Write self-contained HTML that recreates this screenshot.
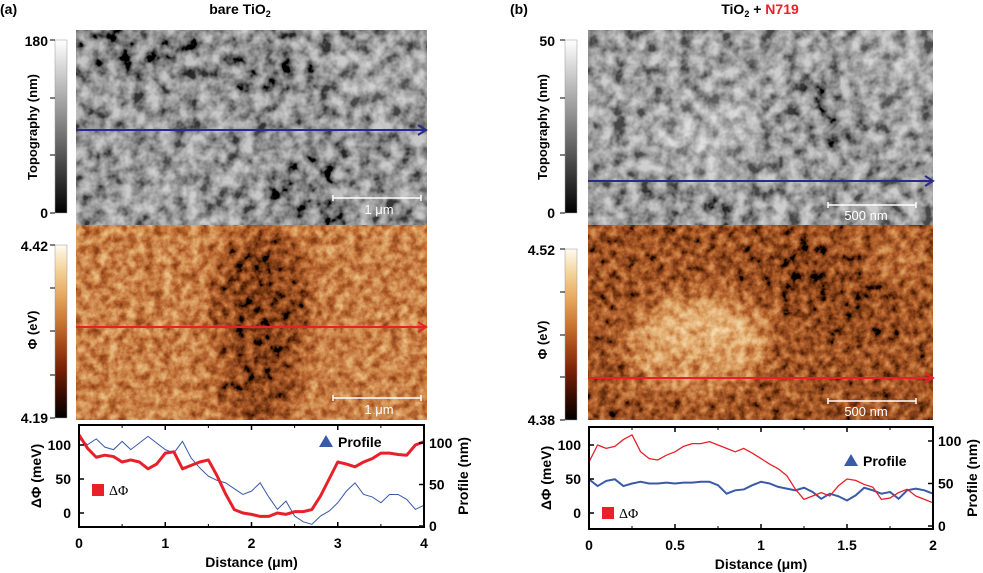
<!DOCTYPE html>
<html><head><meta charset="utf-8"><style>
html,body{margin:0;padding:0;background:#fff;}
svg{display:block;font-family:"Liberation Sans",Arial,sans-serif;}
.b{font-weight:bold;}
</style></head><body>
<svg id="fig" width="983" height="573" viewBox="0 0 983 573" xmlns="http://www.w3.org/2000/svg">
<defs>
<filter id="blur12" x="-50%" y="-50%" width="200%" height="200%"><feGaussianBlur stdDeviation="14"/></filter>
<filter id="grayTex" x="0" y="0" width="100%" height="100%">
 <feTurbulence type="fractalNoise" baseFrequency="0.075" numOctaves="3" seed="4" result="n"/>
 <feColorMatrix in="n" type="matrix" values="2 0 0 0 -0.5 2 0 0 0 -0.5 2 0 0 0 -0.5 0 0 0 0 1" result="g"/>
 <feComposite in="g" in2="SourceGraphic" operator="arithmetic" k1="0" k2="0.55" k3="0.8" k4="-0.22" result="c"/>
 <feComponentTransfer in="c"><feFuncA type="table" tableValues="1 1"/></feComponentTransfer>
</filter>
<filter id="phiTex" x="0" y="0" width="100%" height="100%">
 <feTurbulence type="fractalNoise" baseFrequency="0.11" numOctaves="3" seed="9" result="n"/>
 <feColorMatrix in="n" type="matrix" values="1.5 0 0 0 -0.25 1.5 0 0 0 -0.25 1.5 0 0 0 -0.25 0 0 0 0 1" result="g"/>
 <feComposite in="g" in2="SourceGraphic" operator="arithmetic" k1="0" k2="0.45" k3="0.8" k4="-0.17" result="c"/>
 <feComponentTransfer in="c">
  <feFuncR type="table" tableValues="0 0.23 0.48 0.66 0.8 0.9 0.96 1"/>
  <feFuncG type="table" tableValues="0 0.05 0.13 0.29 0.48 0.66 0.83 0.98"/>
  <feFuncB type="table" tableValues="0 0.01 0.03 0.09 0.21 0.38 0.6 0.94"/>
  <feFuncA type="table" tableValues="1 1"/>
 </feComponentTransfer>
</filter>
<linearGradient id="grayBar" x1="0" y1="1" x2="0" y2="0"><stop offset="0" stop-color="#000"/><stop offset="1" stop-color="#fff"/></linearGradient>
<linearGradient id="phiBar" x1="0" y1="1" x2="0" y2="0">
 <stop offset="0" stop-color="#000"/><stop offset="0.14" stop-color="#3a0c02"/><stop offset="0.29" stop-color="#7a2208"/><stop offset="0.43" stop-color="#a84a18"/><stop offset="0.57" stop-color="#cc7a35"/><stop offset="0.71" stop-color="#e6a860"/><stop offset="0.86" stop-color="#f4d49a"/><stop offset="1" stop-color="#fffaf0"/>
</linearGradient>
<clipPath id="cTL"><rect x="76" y="30" width="351" height="195"/></clipPath>
<clipPath id="cPL"><rect x="76" y="225" width="351" height="195"/></clipPath>
<clipPath id="cTR"><rect x="588" y="30" width="345" height="195"/></clipPath>
<clipPath id="cPR"><rect x="588" y="225" width="345" height="195"/></clipPath>
</defs>

<text x="0" y="14" class="b" font-size="14">(a)</text>
<text x="240" y="14" class="b" font-size="14" text-anchor="middle">bare TiO<tspan font-size="9" dy="3">2</tspan></text>
<text x="510" y="14" class="b" font-size="14">(b)</text>
<text x="760" y="14" class="b" font-size="14" text-anchor="middle">TiO<tspan font-size="9" dy="3">2</tspan><tspan dy="-3"> + </tspan><tspan fill="#e8202a">N719</tspan></text>

<g clip-path="url(#cTL)">
 <g filter="url(#grayTex)">
  <rect x="76" y="30" width="351" height="195" fill="#999"/>
  <g filter="url(#blur12)">
   <ellipse cx="140" cy="45" rx="60" ry="20" fill="#707070"/>
   <ellipse cx="270" cy="70" rx="40" ry="25" fill="#7a7a7a"/>
   <ellipse cx="310" cy="190" rx="30" ry="40" fill="#747474"/>
   <ellipse cx="380" cy="80" rx="40" ry="30" fill="#aaa"/>
   <ellipse cx="180" cy="180" rx="50" ry="30" fill="#a5a5a5"/>
  </g>
 </g>
</g>
<g clip-path="url(#cPL)">
 <g filter="url(#phiTex)">
  <rect x="76" y="225" width="351" height="195" fill="#a8a8a8"/>
  <g filter="url(#blur12)">
   <ellipse cx="262" cy="300" rx="45" ry="70" fill="#5a5a5a"/>
   <ellipse cx="258" cy="380" rx="38" ry="45" fill="#606060"/>
  </g>
 </g>
</g>
<g clip-path="url(#cTR)">
 <g filter="url(#grayTex)">
  <rect x="588" y="30" width="345" height="195" fill="#a0a0a0"/>
  <g filter="url(#blur12)">
   <ellipse cx="700" cy="140" rx="45" ry="30" fill="#c0c0c0"/>
   <ellipse cx="740" cy="100" rx="25" ry="20" fill="#b5b5b5"/>
   <ellipse cx="825" cy="115" rx="20" ry="35" fill="#777"/>
   <ellipse cx="890" cy="70" rx="35" ry="30" fill="#b2b2b2"/>
   <ellipse cx="680" cy="210" rx="60" ry="15" fill="#858585"/>
  </g>
 </g>
</g>
<g clip-path="url(#cPR)">
 <g filter="url(#phiTex)">
  <rect x="588" y="225" width="345" height="195" fill="#7a7a7a"/>
  <g filter="url(#blur12)">
   <ellipse cx="700" cy="340" rx="70" ry="45" fill="#d0d0d0"/>
   <ellipse cx="690" cy="370" rx="60" ry="25" fill="#b8b8b8"/>
   <ellipse cx="800" cy="270" rx="35" ry="30" fill="#555"/>
   <ellipse cx="860" cy="300" rx="40" ry="30" fill="#606060"/>
   <ellipse cx="900" cy="260" rx="30" ry="25" fill="#a0a0a0"/>
  </g>
 </g>
</g>

<g><line x1="76" y1="130" x2="424" y2="130" stroke="#2a2a8a" stroke-width="2"/><path d="M418,125 L426,130 L418,135" fill="none" stroke="#2a2a8a" stroke-width="2"/></g>
<g><line x1="76" y1="327" x2="424" y2="327" stroke="#e8202a" stroke-width="2"/><path d="M418,322 L426,327 L418,332" fill="none" stroke="#e8202a" stroke-width="2"/></g>
<g><line x1="588" y1="181" x2="931" y2="181" stroke="#2a2a8a" stroke-width="2"/><path d="M925,176 L933,181 L925,186" fill="none" stroke="#2a2a8a" stroke-width="2"/></g>
<g><line x1="588" y1="378" x2="931" y2="378" stroke="#e8202a" stroke-width="2"/><path d="M925,373 L933,378 L925,383" fill="none" stroke="#e8202a" stroke-width="2"/></g>

<g fill="#fff" stroke="#fff" font-size="13"><path d="M333,198 H421 M333,195 V201 M421,195 V201" stroke-width="1.5"/><text x="379" y="214" text-anchor="middle" stroke="none">1 μm</text></g>
<g fill="#fff" stroke="#fff" font-size="13"><path d="M333,398 H421 M333,395 V401 M421,395 V401" stroke-width="1.5"/><text x="379" y="414" text-anchor="middle" stroke="none">1 μm</text></g>
<g fill="#fff" stroke="#fff" font-size="13"><path d="M828,205 H916 M828,202 V208 M916,202 V208" stroke-width="1.5"/><text x="866" y="220" text-anchor="middle" stroke="none">500 nm</text></g>
<g fill="#fff" stroke="#fff" font-size="13"><path d="M828,401 H916 M828,398 V404 M916,398 V404" stroke-width="1.5"/><text x="866" y="416" text-anchor="middle" stroke="none">500 nm</text></g>

<g><rect x="55" y="40" width="12" height="173" fill="url(#grayBar)" stroke="#999" stroke-width="0.5"/><path d="M50,40H55M50,98H55M50,155H55M50,213H55" stroke="#000"/><text x="48" y="46" class="b" font-size="14" text-anchor="end">180</text><text x="48" y="218" class="b" font-size="14" text-anchor="end">0</text></g>
<text transform="translate(37,127) rotate(-90)" class="b" font-size="13" text-anchor="middle">Topography (nm)</text>
<g><rect x="55" y="245" width="12" height="173" fill="url(#phiBar)" stroke="#999" stroke-width="0.5"/><path d="M50,245H55M50,288H55M50,331H55M50,375H55M50,418H55" stroke="#000"/><text x="48" y="251" class="b" font-size="14" text-anchor="end">4.42</text><text x="48" y="423" class="b" font-size="14" text-anchor="end">4.19</text></g>
<text transform="translate(37,330) rotate(-90)" class="b" font-size="13" text-anchor="middle">Φ (eV)</text>
<g><rect x="565" y="40" width="12" height="173" fill="url(#grayBar)" stroke="#999" stroke-width="0.5"/><path d="M560,40H565M560,98H565M560,155H565M560,213H565" stroke="#000"/><text x="555" y="46" class="b" font-size="14" text-anchor="end">50</text><text x="555" y="218" class="b" font-size="14" text-anchor="end">0</text></g>
<text transform="translate(547,127) rotate(-90)" class="b" font-size="13" text-anchor="middle">Topography (nm)</text>
<g><rect x="565" y="249" width="12" height="171" fill="url(#phiBar)" stroke="#999" stroke-width="0.5"/><path d="M560,249H565M560,292H565M560,335H565M560,377H565M560,420H565" stroke="#000"/><text x="555" y="255" class="b" font-size="14" text-anchor="end">4.52</text><text x="555" y="425" class="b" font-size="14" text-anchor="end">4.38</text></g>
<text transform="translate(547,340) rotate(-90)" class="b" font-size="13" text-anchor="middle">Φ (eV)</text>

<g id="charts"></g>
</svg>
<script>
const xA = [0,0.1,0.2,0.3,0.4,0.5,0.6,0.7,0.8,0.9,1.0,1.1,1.2,1.3,1.4,1.5,1.6,1.7,1.8,1.9,2.0,2.1,2.2,2.3,2.4,2.5,2.6,2.7,2.8,2.9,3.0,3.1,3.2,3.3,3.4,3.5,3.6,3.7,3.8,3.9,4.0];
const dPhiA = [115,95,82,85,83,75,78,75,65,72,88,90,65,70,75,78,55,28,5,0,-2,-5,-5,0,-2,2,2,5,25,50,75,72,68,75,80,88,88,86,85,100,105];
const profA = [105,98,105,95,92,102,92,100,108,100,92,88,102,82,70,60,55,52,45,38,42,52,35,20,30,12,5,2,12,18,28,42,52,38,35,28,38,38,32,20,25];
const xB = [0,0.05,0.1,0.15,0.2,0.25,0.3,0.35,0.4,0.45,0.5,0.55,0.6,0.65,0.7,0.75,0.8,0.85,0.9,0.95,1.0,1.05,1.1,1.15,1.2,1.25,1.3,1.35,1.4,1.45,1.5,1.55,1.6,1.65,1.7,1.75,1.8,1.85,1.9,1.95,2.0];
const dPhiB = [75,100,95,98,108,115,90,80,78,85,90,98,102,102,105,100,95,90,95,88,80,72,65,55,35,20,25,30,25,40,50,48,42,38,20,22,30,35,25,20,15];
const profB = [55,47,53,55,47,50,52,50,50,51,50,51,51,52,52,48,38,42,43,48,52,50,46,44,42,45,40,32,38,35,30,36,45,42,38,40,32,42,44,42,38];
const xTicksA = ["0","1","2","3","4"];
const xTicksB = ["0","0.5","1","1.5","2"];
const yTicksL = [0,50,100];
const yTicksR = [0,50,100];

const NS="http://www.w3.org/2000/svg";
const root=document.getElementById('charts');
function mk(tag,attrs,parent){const e=document.createElementNS(NS,tag);for(const k in attrs)e.setAttribute(k,attrs[k]);(parent||root).appendChild(e);return e;}

function chart(c){
  const g=mk('g',{});
  
  
  const sx=v=>c.x0+(v/c.xmax)*(c.x1-c.x0);
  const syL=v=>c.l0-v*c.lk;
  const syR=v=>c.r0-v*c.rk;
  const clipId='clip'+c.name;
  const cp=mk('clipPath',{id:clipId},g); mk('rect',{x:c.x0,y:c.y0,width:c.x1-c.x0,height:c.y1-c.y0},cp);
  const lines=mk('g',{'clip-path':'url(#'+clipId+')'},g);
  const pb=mk('polyline',{points:c.xs.map((x,i)=>sx(x)+','+syR(c.prof[i])).join(' '),fill:'none',stroke:'#3a5aa8','stroke-width':c.bw},lines);
  
  
  const pr=mk('polyline',{points:c.xs.map((x,i)=>sx(x)+','+syL(c.phi[i])).join(' '),fill:'none',stroke:'#e8202a','stroke-width':c.rw,'stroke-linejoin':'round'},lines);
  
  
  mk('rect',{x:c.x0,y:c.y0,width:c.x1-c.x0,height:c.y1-c.y0,fill:'none',stroke:'#000','stroke-width':2},g);
  const n=c.xt.length;
  for(let i=0;i<n;i++){
    const v=c.xmax*i/(n-1), x=sx(v);
    mk('line',{x1:x,y1:c.y1,x2:x,y2:c.y1-5,stroke:'#000','stroke-width':1.5},g);
    mk('line',{x1:x,y1:c.y0,x2:x,y2:c.y0+5,stroke:'#000','stroke-width':1.5},g);
    if(i<n-1){const xm=sx(v+c.xmax/(n-1)/2);mk('line',{x1:xm,y1:c.y1,x2:xm,y2:c.y1-3,stroke:'#000'},g);mk('line',{x1:xm,y1:c.y0,x2:xm,y2:c.y0+3,stroke:'#000'},g);}
    const t=mk('text',{x:x,y:c.y1+21,'text-anchor':'middle','font-size':14,'font-weight':'bold'},g); t.textContent=c.xt[i];
    
    
  }
  yTicksL.forEach(v=>{const y=syL(v);mk('line',{x1:c.x0,y1:y,x2:c.x0+5,y2:y,stroke:'#000','stroke-width':1.5},g);
    const t=mk('text',{x:c.x0-8,y:y+5,'text-anchor':'end','font-size':14,'font-weight':'bold'},g);t.textContent=v;
    
    });
  yTicksR.forEach(v=>{const y=syR(v);mk('line',{x1:c.x1,y1:y,x2:c.x1-5,y2:y,stroke:'#000','stroke-width':1.5},g);
    const t=mk('text',{x:c.x1+5,y:y+5,'text-anchor':'start','font-size':14,'font-weight':'bold'},g);t.textContent=v;
    
    });
  const xl=mk('text',{x:(c.x0+c.x1)/2,y:c.y1+40,'text-anchor':'middle','font-size':14,'font-weight':'bold'},g);xl.textContent='Distance (μm)';
  
  
  const yl=mk('text',{transform:'translate('+(c.x0-38)+','+((c.y0+c.y1)/2)+') rotate(-90)','text-anchor':'middle','font-size':14,'font-weight':'bold'},g);yl.textContent='ΔΦ (meV)';
  
  
  const yr=mk('text',{transform:'translate('+(c.x1+44)+','+((c.y0+c.y1)/2)+') rotate(-90)','text-anchor':'middle','font-size':14,'font-weight':'bold'},g);yr.textContent='Profile (nm)';
  
  
  const lp=mk('g',{},g);
  
  
  mk('path',{d:`M${c.lpx},${c.lpy+5} l7,-12 l7,12 z`,fill:'#3a5aa8'},lp);
  const lpt=mk('text',{x:c.lpx+19,y:c.lpy+5,'font-size':14,'font-weight':'bold'},lp);lpt.textContent='Profile';
  const lr=mk('g',{},g);
  
  
  mk('rect',{x:c.lrx,y:c.lry-11,width:12,height:12,fill:'#e8202a'},lr);
  const lrt=mk('text',{x:c.lrx+17,y:c.lry,'font-size':14,'font-family':'Liberation Serif, serif'},lr);lrt.textContent='ΔΦ';
}
chart({name:'line-chart-a',x0:79,x1:424,y0:425,y1:527,xmax:4,l0:513,lk:0.68,r0:526,rk:0.83,xs:xA,phi:dPhiA,prof:profA,xt:xTicksA,bw:1,rw:3,lpx:319,lpy:442,lrx:92,lry:495});
chart({name:'line-chart-b',x0:589,x1:933,y0:427,y1:529,xmax:2,l0:513,lk:0.68,r0:526,rk:0.85,xs:xB,phi:dPhiB,prof:profB,xt:xTicksB,bw:2,rw:1.3,lpx:844,lpy:461,lrx:602,lry:518});
</script>
</body></html>
